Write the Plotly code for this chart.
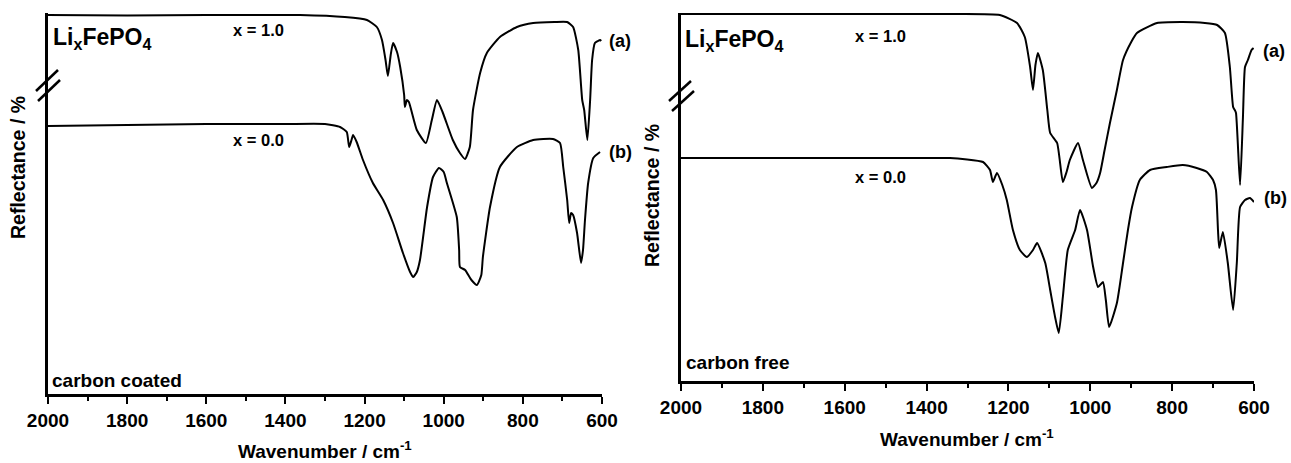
import plotly.graph_objects as go

# ---------------- data ----------------
# Left panel: carbon coated, heights in arbitrary reflectance units
cc_a_wn = [2000, 1800, 1600, 1450, 1363, 1250, 1194, 1169, 1156, 1147, 1141, 1134, 1128, 1118, 1110,
           1100, 1098, 1093, 1088, 1068, 1045, 1030, 1017, 1002, 977, 959, 946, 934, 926, 908, 891,
           858, 815, 774, 720, 688, 673, 660, 650, 645, 637, 630, 625, 618, 610, 605, 602]
cc_a_r = [379, 378.5, 379, 379, 379, 377, 374, 367, 354, 334, 318, 339, 351, 342, 327,
          299, 287, 294, 292, 264, 251, 274, 294, 281, 254, 241, 235, 247, 284, 321, 341,
          357, 367, 371, 372, 372, 367, 344, 294, 284, 254, 294, 334, 351, 353, 354, 353]

cc_b_wn = [2000, 1800, 1600, 1400, 1300, 1262, 1245, 1239, 1233, 1229, 1220, 1204, 1179, 1153, 1128,
           1103, 1085, 1077, 1068, 1060, 1042, 1027, 1012, 1000, 992, 967, 961, 959, 946, 930, 916,
           905, 901, 883, 858, 815, 774, 724, 706, 698, 688, 683, 678, 673, 663, 653, 648, 643, 635,
           622, 605]
cc_b_r = [268, 269, 270, 270, 270, 267, 262, 247, 254, 259, 252, 234, 211, 194, 171,
          141, 122, 117, 122, 134, 187, 217, 226, 222, 211, 177, 144, 127, 124, 114, 109,
          119, 137, 187, 227, 247, 254, 255, 251, 227, 194, 171, 181, 179, 161, 131, 144, 174, 211,
          236, 242]

# Right panel: carbon free
cf_a_wn = [2000, 1800, 1600, 1343, 1221, 1179, 1160, 1147, 1140, 1134, 1128, 1116, 1105, 1098, 1081,
           1067, 1058, 1050, 1030, 1018, 996, 985, 976, 965, 952, 935, 920, 900, 886, 837, 774, 720,
           690, 671, 659, 651, 647, 644, 634, 627, 622, 615, 606, 601]
cf_a_r = [367, 367, 367, 367, 366, 358, 344, 314, 291, 316, 328, 311, 271, 248, 238,
          199, 209, 221, 238, 221, 193, 198, 208, 231, 258, 291, 321, 339, 348, 358, 359, 358,
          356, 348, 314, 274, 271, 268, 196, 264, 314, 321, 331, 333]

cf_b_wn = [2000, 1800, 1600, 1400, 1343, 1262, 1245, 1238, 1228, 1215, 1204, 1189, 1172, 1155, 1140,
           1130, 1110, 1098, 1086, 1077, 1067, 1055, 1037, 1025, 1008, 993, 981, 969, 962, 954, 935,
           920, 908, 898, 879, 854, 813, 774, 740, 715, 700, 693, 688, 685, 676, 664, 651, 642, 634,
           622, 610, 600]
cf_b_r = [223, 223, 223, 223, 223, 219, 211, 199, 208, 196, 181, 151, 131, 124, 131,
          138, 118, 91, 64, 48, 84, 131, 151, 171, 151, 114, 94, 99, 81, 54, 78,
          118, 151, 174, 201, 211, 214, 216, 213, 209, 201, 191, 151, 133, 149, 118, 71, 118, 174,
          181, 183, 179]

x_ticks = [2000, 1800, 1600, 1400, 1200, 1000, 800, 600]
x_tick_text = ["2000", "1800", "1600", "1400", "1200", "1000", "800", "600"]

W, H = 1291, 463
FONT = "Liberation Sans, Arial, sans-serif"


def px(x):
    return x / W


def py(y):
    return 1 - y / H


fig = go.Figure()
line_style = dict(color="black", width=2, shape="spline", smoothing=0.5)
fig.add_trace(go.Scatter(x=cc_a_wn, y=cc_a_r, mode="lines", line=line_style, xaxis="x", yaxis="y", showlegend=False))
fig.add_trace(go.Scatter(x=cc_b_wn, y=cc_b_r, mode="lines", line=line_style, xaxis="x", yaxis="y", showlegend=False))
fig.add_trace(go.Scatter(x=cf_a_wn, y=cf_a_r, mode="lines", line=line_style, xaxis="x2", yaxis="y2", showlegend=False))
fig.add_trace(go.Scatter(x=cf_b_wn, y=cf_b_r, mode="lines", line=line_style, xaxis="x2", yaxis="y2", showlegend=False))

xaxis_common = dict(
    range=[2000, 600], tickvals=x_ticks, ticktext=x_tick_text,
    ticks="outside", ticklen=7, tickwidth=2, tickcolor="black",
    showline=True, linewidth=2.5, linecolor="black",
    showgrid=False, zeroline=False, automargin=False,
    tickfont=dict(family=FONT, size=19, color="black", weight="bold"),
    minor=dict(dtick=100, tick0=600, ticks="outside", ticklen=4, tickwidth=2, tickcolor="black", showgrid=False),
)
yaxis_common = dict(
    showline=True, linewidth=2.5, linecolor="black", showticklabels=False,
    ticks="", showgrid=False, zeroline=False, automargin=False,
)

fig.update_layout(
    template="none",
    width=W, height=H, autosize=False,
    margin=dict(l=0, r=0, t=0, b=0, pad=0),
    paper_bgcolor="white", plot_bgcolor="white",
    xaxis=dict(domain=[px(48), px(602)], anchor="y", **xaxis_common),
    yaxis=dict(domain=[py(394), py(13)], range=[0, 381], anchor="x", **yaxis_common),
    xaxis2=dict(domain=[px(681), px(1254)], anchor="y2", **xaxis_common),
    yaxis2=dict(domain=[py(381), py(13)], range=[0, 368], anchor="x2", **yaxis_common),
)


def ann(text, x, y, size, xanchor="center", yanchor="middle", bold=True, angle=0):
    fig.add_annotation(
        text=text, x=px(x), y=py(y), xref="paper", yref="paper",
        xanchor=xanchor, yanchor=yanchor, showarrow=False, textangle=angle,
        font=dict(family=FONT, size=size, color="black", weight="bold" if bold else "normal"),
    )


formula = "Li<sub>x</sub>FePO<sub>4</sub>"
# left panel texts
ann(formula, 51, 38, 23, xanchor="left")
ann("x = 1.0", 258, 30, 16.5)
ann("x = 0.0", 258, 140, 16.5)
ann("(a)", 607, 41, 18, xanchor="left")
ann("(b)", 607, 152, 18, xanchor="left")
ann("carbon coated", 50, 380, 19, xanchor="left")
ann("Wavenumber / cm<sup>-1</sup>", 325, 450, 19)
ann("Reflectance / %", 18, 168, 19.5, angle=-90)
# right panel texts
ann(formula, 683, 41, 23, xanchor="left")
ann("x = 1.0", 880, 36, 16.5)
ann("x = 0.0", 880, 177, 16.5)
ann("(a)", 1261, 51, 18, xanchor="left")
ann("(b)", 1262, 198, 18, xanchor="left")
ann("carbon free", 684, 362, 19, xanchor="left")
ann("Wavenumber / cm<sup>-1</sup>", 967, 438, 19)
ann("Reflectance / %", 652, 196, 19.5, angle=-90)

# axis-break marks on the y axes
for (x0, y0, x1, y1) in [(36, 91, 58, 70), (38, 101, 60, 80), (669, 101, 691, 81), (672, 111, 694, 91)]:
    fig.add_shape(type="line", xref="paper", yref="paper",
                  x0=px(x0), y0=py(y0), x1=px(x1), y1=py(y1),
                  line=dict(color="black", width=2.5))

fig.write_html("out.html")
